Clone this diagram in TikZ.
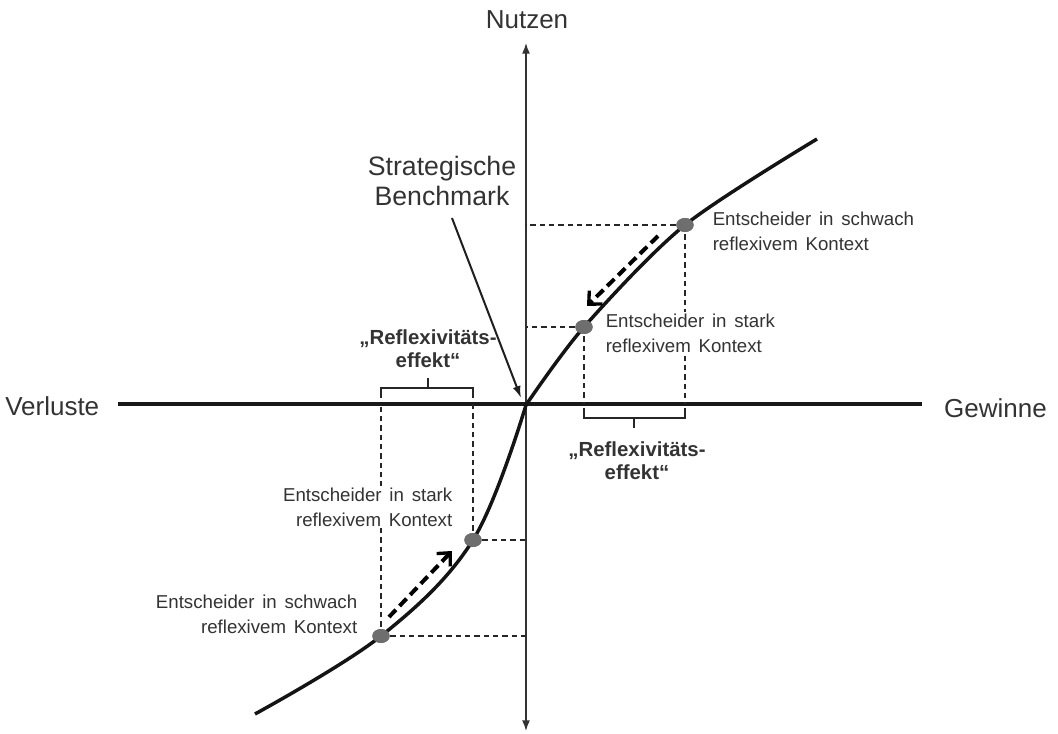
\documentclass[tikz,border=0pt]{standalone}
\usepackage{fontspec}
\setmainfont{Liberation Sans}
\newfontfamily\lblfont[WordSpace=1.5]{Liberation Sans}
\usetikzlibrary{arrows.meta,shapes.geometric}
\definecolor{txt}{HTML}{333333}
\definecolor{dotc}{HTML}{6E6E6E}
\begin{document}
\begin{tikzpicture}[x=0.75pt,y=-0.75pt,
  dotn/.style={ellipse,fill=dotc,draw=none,minimum width=13pt,minimum height=10.5pt,inner sep=0pt},
  helper/.style={dashed,line width=0.8pt,dash pattern=on 4pt off 3pt,color=black!85},
  brk/.style={line width=1.8pt,color=black!85},
  mvarrow/.style={line width=3pt,dash pattern=on 7.5pt off 4pt,-{Straight Barb[length=7.5pt,width=14pt,line width=2.5pt]}},
  ctx/.style={font=\lblfont\fontsize{14}{18.5}\selectfont,text=txt,fill=white,inner sep=1.5pt},
  refl/.style={font=\bfseries\fontsize{15.3}{17.5}\selectfont,text=txt,align=center,inner sep=0pt},
  big/.style={font=\fontsize{19.5}{22.5}\selectfont,text=txt,inner sep=0pt}]
\useasboundingbox (0,0) rectangle (1058,734);
% axes
\coordinate (O) at (526,404);
\coordinate (ytop) at (526,43);
\coordinate (ybot) at (526,731);
\coordinate (xl) at (118,404);
\coordinate (xr) at (922,404);
\draw[line width=1.1pt,color=black!80,{Latex[length=8pt,width=6pt]}-{Latex[length=8pt,width=6pt]}] (ybot) -- (ytop);
\draw[line width=3.6pt,color=black!90] (xl) -- (xr);
% dots
\node[dotn] (d1) at (685,225) {};
\node[dotn] (d2) at (584,327) {};
\node[dotn] (d3) at (473,540) {};
\node[dotn] (d4) at (381,636) {};
% helper lines
\draw[helper] (d1.center) -- (d1.center -| O);
\draw[helper] (d1.center) -- (d1.center |- O);
\draw[helper] (d2.center) -- (d2.center -| O);
\draw[helper] (d2.center) -- (d2.center |- O);
\draw[helper] (d3.center) -- (d3.center -| O);
\draw[helper] (d3.center) -- (d3.center |- O);
\draw[helper] (d4.center) -- (d4.center -| O);
\draw[helper] (d4.center) -- (d4.center |- O);
% text labels (white background hides helper lines behind them)
\node[ctx,anchor=west,align=left] (t1) at (710.5,231) {Entscheider in schwach\\reflexivem Kontext};
\node[ctx,anchor=west,align=left] (t2) at (603.5,333) {Entscheider in stark\\reflexivem Kontext};
\node[ctx,anchor=east,align=right] (t3) at (454.5,507) {Entscheider in stark\\reflexivem Kontext};
\node[ctx,anchor=east,align=right] (t4) at (359.5,614) {Entscheider in schwach\\reflexivem Kontext};
% curve
\draw[line width=2.6pt,color=black!92,line join=round]
  plot[smooth,tension=0.6] coordinates {(255,714) (381,636) (473,540) (526,405)}
  -- plot[smooth,tension=0.5] coordinates {(526,405) (584,327) (685,225) (817,139)};
\foreach \d in {d1,d2,d3,d4} \node[dotn] at (\d) {};
% brackets
\draw[brk] (381,398) -- (381,388) -- (473,388) -- (473,398);
\draw[brk] (428,388) -- (428,378);
\draw[brk] (584,408) -- (584,418) -- (685,418) -- (685,408);
\draw[brk] (634,418) -- (634,428);
% labels
\node[big] (nutzen) at (527,20) {Nutzen};
\node[big,anchor=west] (verl) at (5,406) {Verluste};
\node[big,anchor=east] (gew) at (1047,408) {Gewinne};
\node[big,align=center,font=\fontsize{20}{22.5}\selectfont] (bench) at (442,181) {Strategische\\Benchmark};
\draw[line width=1.5pt,color=black!88,-{Latex[length=9pt,width=6pt]}] (bench.south)++(10,12) -- (521,398);
\node[refl] (r1) at (428,349) {„Reflexivitäts-\\effekt“};
\node[refl] (r2) at (637,461) {„Reflexivitäts-\\effekt“};
% movement arrows
\draw[mvarrow] (658,236) -- (587,306);
\draw[mvarrow] (389,617) -- (452,551);
\end{tikzpicture}
\end{document}
